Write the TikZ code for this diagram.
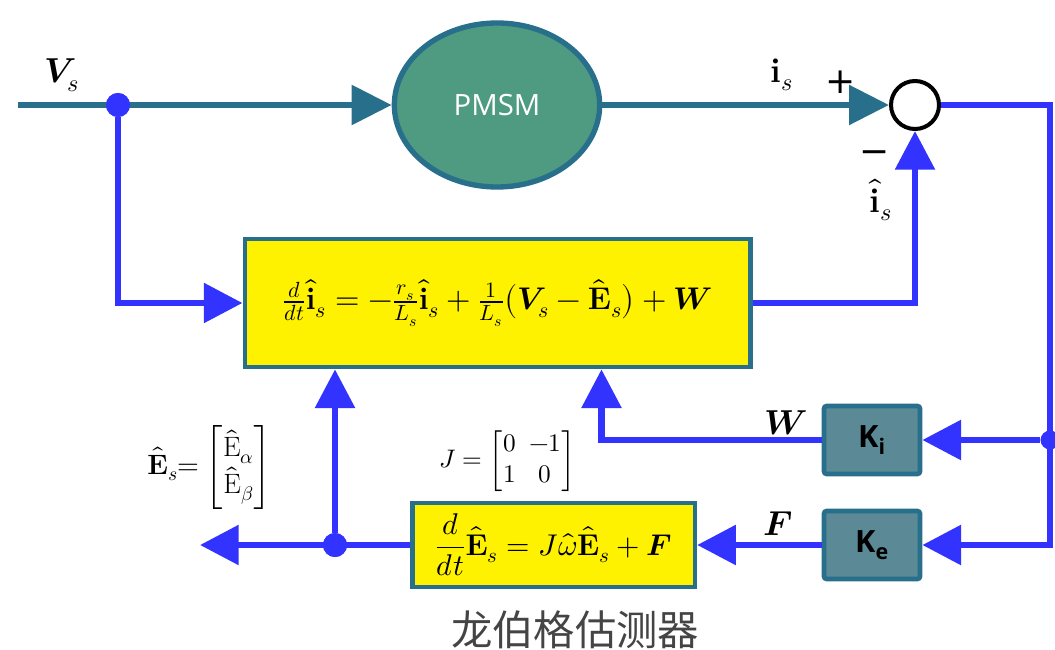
\documentclass[tikz,border=0pt]{standalone}
\usepackage{amsmath}
\usepackage{fontspec}
\usepackage{unicode-math}
\setmathfont{Latin Modern Math}
\setsansfont{Open Sans}
\newfontfamily\cjk{Noto Sans CJK SC}
\newfontfamily\signfont{DejaVu Sans}
\usepackage{tikz}
\usetikzlibrary{arrows.meta}
\usetikzlibrary{positioning}
\usetikzlibrary{shapes.geometric}
\definecolor{pmteal}{HTML}{276F8B}
\definecolor{pmgreen}{HTML}{4E9B81}
\definecolor{sigblue}{HTML}{3333FF}
\definecolor{gainfill}{HTML}{5B8A96}
\definecolor{capgray}{HTML}{444444}

\begin{document}
\begin{tikzpicture}[x=0.75pt, y=-0.75pt,
    mline/.style={draw=pmteal, line width=5pt, -{Triangle[length=30pt,width=29pt]}},
    sig/.style={draw=sigblue, line width=5pt, -{Triangle[length=29pt,width=29pt]}},
    eqbox/.style={rectangle, draw=pmteal, line width=3.5pt, fill=yellow, inner sep=0pt},
    gain/.style={rectangle, draw=pmteal, line width=3.5pt, fill=gainfill, rounded corners=2pt,
      minimum width=72pt, minimum height=51pt, font=\sffamily\bfseries\fontsize{23}{27}\selectfont},
    lbl/.style={font=\fontsize{26}{30}\selectfont},
    sgn/.style={font=\signfont\fontsize{27}{30}\selectfont},
    dot/.style={circle, fill=sigblue, inner sep=0pt, minimum size=18pt}]
  \useasboundingbox (0,0) rectangle (1055,649);

  % plant and comparison
  \coordinate (in) at (18,105);
  \node[ellipse, draw=pmteal, line width=4pt, fill=pmgreen, minimum width=154pt, minimum height=123pt,
    text=white, font=\sffamily\fontsize{22}{26}\selectfont] (pmsm) at (497,105) {PMSM};
  \node[circle, draw=black, line width=3pt, fill=white, minimum size=36pt, inner sep=0pt] (sum) at (915,105) {};
  \node[dot] (split) at (118,105) {};

  % observer blocks
  \node[eqbox, minimum width=379pt, minimum height=96pt, font=\fontsize{23.5}{28}\selectfont] (box1) at (497.5,303)
    {$\frac{d}{dt}\hat{\mathbf{i}}_s = -\frac{r_s}{L_s}\hat{\mathbf{i}}_s + \frac{1}{L_s}\bigl(\symbfit{V}_s - \hat{\mathbf{E}}_s\bigr) + \symbfit{W}$};
  \node[eqbox, minimum width=212pt, minimum height=63pt, font=\fontsize{22.5}{27}\selectfont] (box2) at (553.5,545)
    {$\dfrac{d}{dt}\hat{\mathbf{E}}_s = J\widehat{\omega}\hat{\mathbf{E}}_s + \symbfit{F}$};
  \node[gain] (ki) at (872,440) {K\textsubscript{i}};
  \node[gain] (ke) at (872,545) {K\textsubscript{e}};
  \coordinate (rb) at (1050,545);
  \node[dot, minimum size=14pt] (rd) at (1050,440) {};
  \node[dot] (split2) at (335,545) {};
  \coordinate (out) at (200,545);

  % connectors
  \draw[mline] (in) -- (pmsm);
  \draw[mline] (pmsm.east) -- (sum.west);
  \draw[sig] (split) |- (box1.west);
  \draw[sig] (box1.east) -| (sum.south);
  \draw[sig] (sum.east) -| (rb) -- (ke.east);
  \draw[sig] (rd) -- (ki.east);
  \draw[sig] (ki.west) -| ([xshift=78pt]box1.south);
  \draw[sig] (ke.west) -- (box2.east);
  \draw[sig] (box2.west) -- (out);
  \draw[sig] (split2) -- (box1.south -| split2);
  \node[dot] at (split) {};
  \node[dot] at (split2) {};
  \node[dot, minimum size=14pt] at (rd) {};

  % labels
  \node[lbl] (lv) at (62,75) {$\symbfit{V}_s$};
  \node[lbl] (li) at (782,75) {$\mathbf{i}_s$};
  \node[sgn] (lp) at (841,82) {+};
  \node[sgn] (lm) at (875,157) {−};
  \node[lbl] (lh) at (881,200) {$\hat{\mathbf{i}}_s$};
  \node[lbl] (lw) at (786,423) {$\symbfit{W}$};
  \node[lbl] (lf) at (778,524) {$\symbfit{F}$};
  \node[font=\fontsize{21}{25}\selectfont] (le) at (210,467)
    {$\hat{\mathbf{E}}_s{=}\begin{bmatrix}\widehat{\mathrm{E}}_\alpha\\ \widehat{\mathrm{E}}_\beta\end{bmatrix}$};
  \node[font=\fontsize{19}{23}\selectfont] (lj) at (507,461)
    {$J=\begin{bmatrix}0 & -1\\ 1 & 0\end{bmatrix}$};
  \node[font=\cjk\fontsize{31}{36}\selectfont, text=capgray] (cap) at (575,630) {龙伯格估测器};
\end{tikzpicture}
\end{document}
